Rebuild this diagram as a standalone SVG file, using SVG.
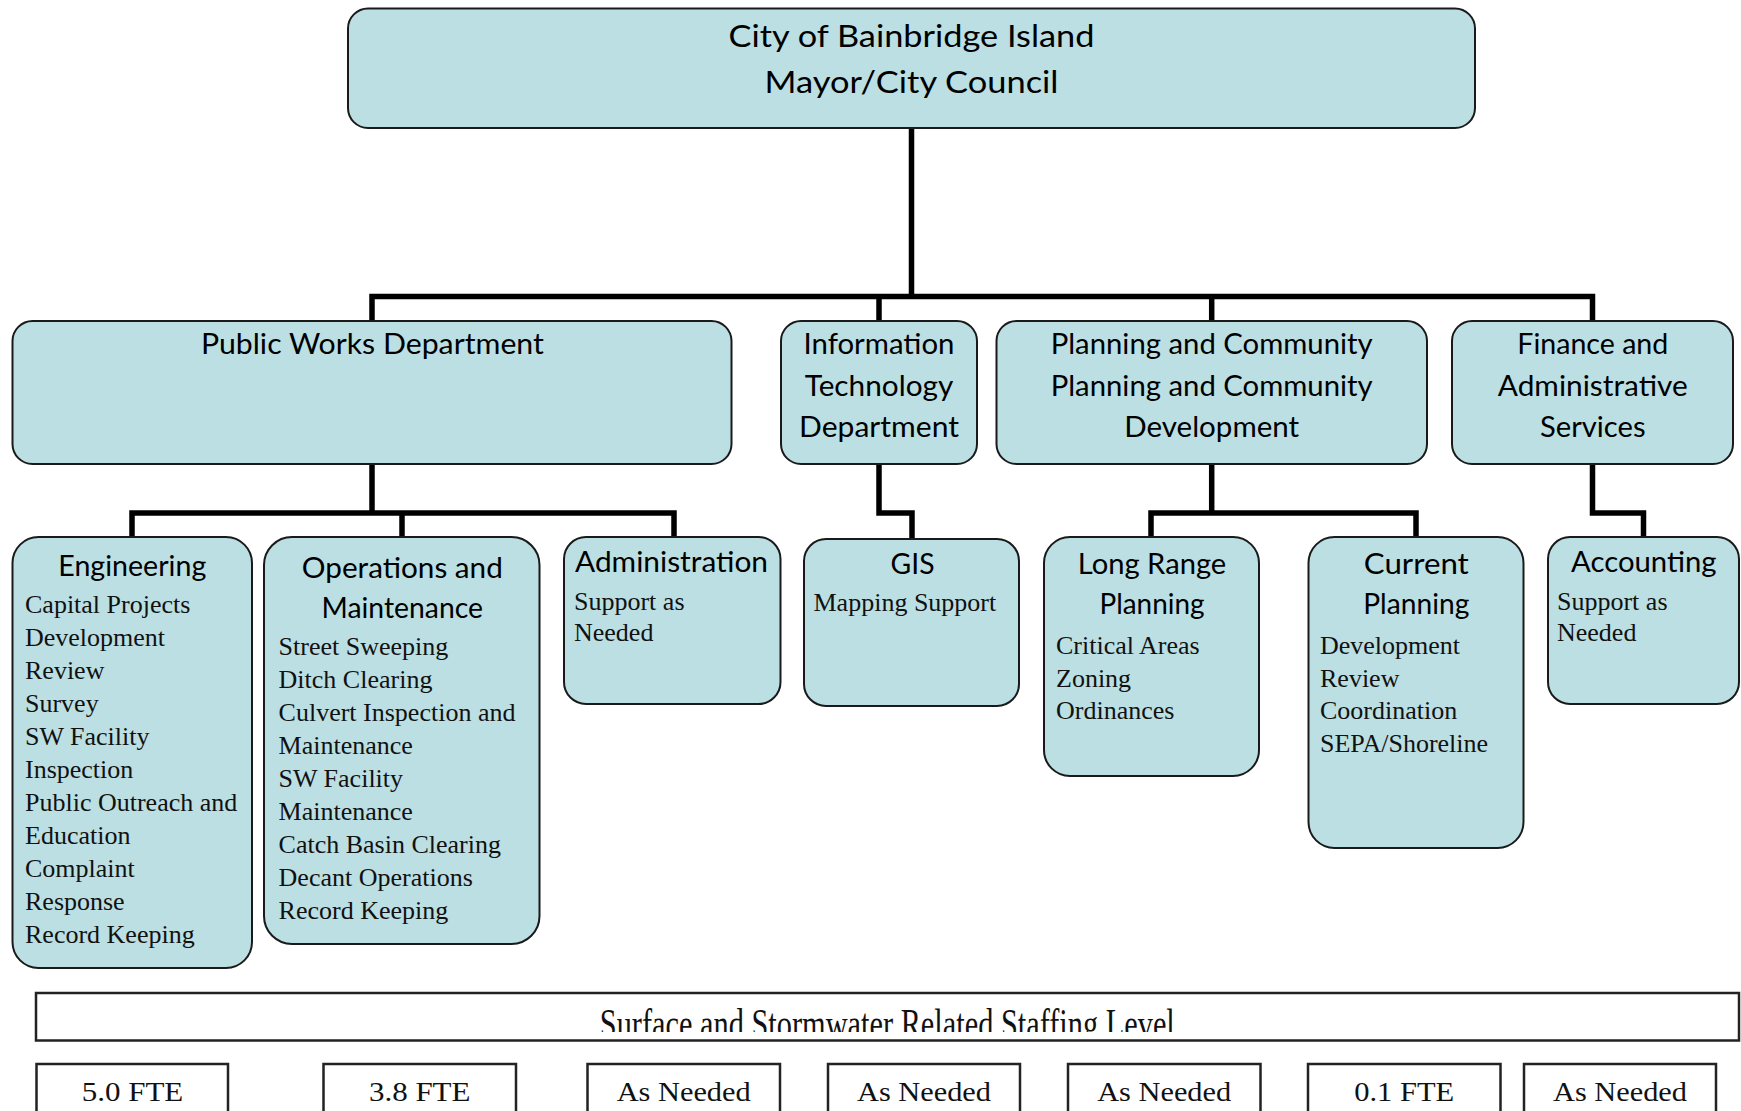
<svg xmlns="http://www.w3.org/2000/svg" width="1741" height="1111" viewBox="0 0 1741 1111">
<defs>
<style>
.box{fill:#BBDFE3;stroke:#1a1a1a;stroke-width:2}
.conn{fill:none;stroke:#000;stroke-width:5.5;stroke-linejoin:miter;stroke-linecap:butt}
.t{font-family:Lato,"Liberation Sans",sans-serif;font-size:28px;fill:#000;text-anchor:middle}
.top{font-size:31px}
.b{font-family:"Liberation Serif","DejaVu Serif",serif;font-size:26px;fill:#111}
.wb{fill:#fff;stroke:#222;stroke-width:2.5}
.ft{font-family:"Liberation Serif","DejaVu Serif",serif;font-size:31px;fill:#111;text-anchor:middle}
.fs{font-family:"Liberation Serif","DejaVu Serif",serif;font-size:28px;fill:#111;text-anchor:middle}
</style>
<clipPath id="clipStaff"><rect x="37" y="994" width="1701" height="38"/></clipPath>
</defs>
<rect width="1741" height="1111" fill="#fff"/>

<g id="connectors">
<path class="conn" d="M911.5,128 V296.5"/>
<path class="conn" d="M372,321 V296.5 H1592.5 V321"/>
<path class="conn" d="M879,296.5 V321"/>
<path class="conn" d="M1211.7,296.5 V321"/>
<path class="conn" d="M372,464 V513"/>
<path class="conn" d="M132,537 V513 H674 V537"/>
<path class="conn" d="M402,513 V537"/>
<path class="conn" d="M879,464 V513 H912 V539"/>
<path class="conn" d="M1211.7,464 V513"/>
<path class="conn" d="M1151,537 V513 H1416 V537"/>
<path class="conn" d="M1592.5,464 V513 H1643.5 V537"/>
</g>

<g id="node-city">
<rect class="box" x="348" y="8.5" width="1127" height="119.5" rx="20"/>
<text class="t top" x="911.5" y="46.5" textLength="366" lengthAdjust="spacingAndGlyphs">City of Bainbridge Island</text>
<text class="t top" x="911.5" y="93" textLength="294" lengthAdjust="spacingAndGlyphs">Mayor/City Council</text>
</g>

<g id="node-publicworks">
<rect class="box" x="12.5" y="321" width="719" height="143" rx="20"/>
<text class="t" x="372.4" y="354" textLength="343" lengthAdjust="spacingAndGlyphs">Public Works Department</text>
</g>

<g id="node-it">
<rect class="box" x="781" y="321" width="196" height="143" rx="20"/>
<text class="t" x="879" y="354" textLength="151" lengthAdjust="spacingAndGlyphs">Information</text>
<text class="t" x="879" y="395.5" textLength="148.6" lengthAdjust="spacingAndGlyphs">Technology</text>
<text class="t" x="879" y="437" textLength="160" lengthAdjust="spacingAndGlyphs">Department</text>
</g>

<g id="node-planning">
<rect class="box" x="996.5" y="321" width="430.5" height="143" rx="20"/>
<text class="t" x="1211.7" y="354" textLength="322" lengthAdjust="spacingAndGlyphs">Planning and Community</text>
<text class="t" x="1211.7" y="395.5" textLength="322" lengthAdjust="spacingAndGlyphs">Planning and Community</text>
<text class="t" x="1211.7" y="437" textLength="175" lengthAdjust="spacingAndGlyphs">Development</text>
</g>

<g id="node-finance">
<rect class="box" x="1452" y="321" width="281" height="143" rx="20"/>
<text class="t" x="1592.8" y="354" textLength="151" lengthAdjust="spacingAndGlyphs">Finance and</text>
<text class="t" x="1592.8" y="395.5" textLength="190" lengthAdjust="spacingAndGlyphs">Administrative</text>
<text class="t" x="1592.8" y="437" textLength="105.6" lengthAdjust="spacingAndGlyphs">Services</text>
</g>

<g id="node-engineering">
<rect class="box" x="12.5" y="537" width="239.5" height="431" rx="26"/>
<text class="t" x="132.3" y="575.5" textLength="148" lengthAdjust="spacingAndGlyphs">Engineering</text>
<text class="b" x="25" y="613">Capital Projects</text>
<text class="b" x="25" y="646">Development</text>
<text class="b" x="25" y="679">Review</text>
<text class="b" x="25" y="712">Survey</text>
<text class="b" x="25" y="745">SW Facility</text>
<text class="b" x="25" y="778">Inspection</text>
<text class="b" x="25" y="811">Public Outreach and</text>
<text class="b" x="25" y="844">Education</text>
<text class="b" x="25" y="877">Complaint</text>
<text class="b" x="25" y="910">Response</text>
<text class="b" x="25" y="943">Record Keeping</text>
</g>

<g id="node-operations">
<rect class="box" x="264" y="537" width="275.5" height="407" rx="28"/>
<text class="t" x="402.3" y="577.5" textLength="201" lengthAdjust="spacingAndGlyphs">Operations and</text>
<text class="t" x="402.3" y="617.5" textLength="161.5" lengthAdjust="spacingAndGlyphs">Maintenance</text>
<text class="b" x="278.6" y="655">Street Sweeping</text>
<text class="b" x="278.6" y="688">Ditch Clearing</text>
<text class="b" x="278.6" y="721">Culvert Inspection and</text>
<text class="b" x="278.6" y="754">Maintenance</text>
<text class="b" x="278.6" y="787">SW Facility</text>
<text class="b" x="278.6" y="820">Maintenance</text>
<text class="b" x="278.6" y="853">Catch Basin Clearing</text>
<text class="b" x="278.6" y="886">Decant Operations</text>
<text class="b" x="278.6" y="919">Record Keeping</text>
</g>

<g id="node-administration">
<rect class="box" x="564" y="537" width="216.5" height="167" rx="22"/>
<text class="t" x="671.5" y="572" textLength="193" lengthAdjust="spacingAndGlyphs">Administration</text>
<text class="b" x="574" y="609.5">Support as</text>
<text class="b" x="574" y="641">Needed</text>
</g>

<g id="node-gis">
<rect class="box" x="804" y="539" width="215" height="167" rx="22"/>
<text class="t" x="912.5" y="573.5" textLength="44" lengthAdjust="spacingAndGlyphs">GIS</text>
<text class="b" x="813.5" y="611">Mapping Support</text>
</g>

<g id="node-longrange">
<rect class="box" x="1044" y="537" width="215" height="239" rx="26"/>
<text class="t" x="1152" y="573.5" textLength="148.5" lengthAdjust="spacingAndGlyphs">Long Range</text>
<text class="t" x="1152" y="613.5" textLength="105" lengthAdjust="spacingAndGlyphs">Planning</text>
<text class="b" x="1056" y="653.5">Critical Areas</text>
<text class="b" x="1056" y="686.5">Zoning</text>
<text class="b" x="1056" y="719">Ordinances</text>
</g>

<g id="node-currentplanning">
<rect class="box" x="1308.5" y="537" width="215" height="311" rx="26"/>
<text class="t" x="1416.3" y="573.5" textLength="105" lengthAdjust="spacingAndGlyphs">Current</text>
<text class="t" x="1416.3" y="613.5" textLength="106" lengthAdjust="spacingAndGlyphs">Planning</text>
<text class="b" x="1320" y="653.5">Development</text>
<text class="b" x="1320" y="686.5">Review</text>
<text class="b" x="1320" y="719">Coordination</text>
<text class="b" x="1320" y="752">SEPA/Shoreline</text>
</g>

<g id="node-accounting">
<rect class="box" x="1548" y="537" width="191" height="167" rx="22"/>
<text class="t" x="1643.8" y="572" textLength="145.5" lengthAdjust="spacingAndGlyphs">Accounting</text>
<text class="b" x="1557" y="609.5">Support as</text>
<text class="b" x="1557" y="641">Needed</text>
</g>

<g id="staffing-header">
<rect class="wb" x="36" y="993" width="1703" height="47.5"/>
<g clip-path="url(#clipStaff)">
<text class="ft" x="887.3" y="0" transform="translate(0,1010) scale(1,1.35)" dy="20.5" textLength="575" lengthAdjust="spacingAndGlyphs">Surface and Stormwater Related Staffing Level</text>
</g>
</g>

<g id="staffing-levels">
<rect class="wb" x="36.5" y="1064" width="191.5" height="80"/>
<rect class="wb" x="323.5" y="1064" width="192.5" height="80"/>
<rect class="wb" x="587.5" y="1064" width="192.5" height="80"/>
<rect class="wb" x="828" y="1064" width="192" height="80"/>
<rect class="wb" x="1068" y="1064" width="192.5" height="80"/>
<rect class="wb" x="1308" y="1064" width="192.5" height="80"/>
<rect class="wb" x="1524" y="1064" width="192" height="80"/>
<text class="fs" x="132.5" y="1101" textLength="101.6" lengthAdjust="spacingAndGlyphs">5.0 FTE</text>
<text class="fs" x="419.7" y="1101" textLength="101.6" lengthAdjust="spacingAndGlyphs">3.8 FTE</text>
<text class="fs" x="683.7" y="1101" textLength="134" lengthAdjust="spacingAndGlyphs">As Needed</text>
<text class="fs" x="924" y="1101" textLength="134" lengthAdjust="spacingAndGlyphs">As Needed</text>
<text class="fs" x="1164.2" y="1101" textLength="134" lengthAdjust="spacingAndGlyphs">As Needed</text>
<text class="fs" x="1404.2" y="1101" textLength="100" lengthAdjust="spacingAndGlyphs">0.1 FTE</text>
<text class="fs" x="1620" y="1101" textLength="134" lengthAdjust="spacingAndGlyphs">As Needed</text>
</g>
</svg>
